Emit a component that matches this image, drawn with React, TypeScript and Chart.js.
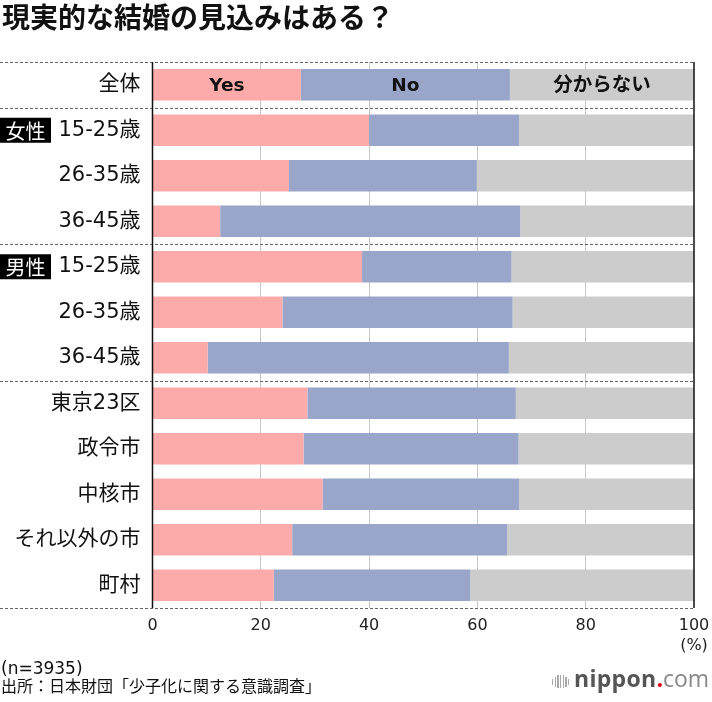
import React, { useEffect, useRef } from 'react';
import { Chart, registerables } from 'chart.js';

Chart.register(...registerables);

// ---- data ----
const categories = ['全体', '15-25歳', '26-35歳', '36-45歳', '15-25歳', '26-35歳', '36-45歳', '東京23区', '政令市', '中核市', 'それ以外の市', '町村'];
const groupTags = ['', '女性', '', '', '男性', '', '', '', '', '', '', ''];
const seriesNames = ['Yes', 'No', '分からない'];
const yesValues = [27.4, 40.0, 25.2, 12.5, 38.7, 24.0, 10.2, 28.6, 27.9, 31.4, 25.8, 22.4];
const noValues = [38.6, 27.7, 34.7, 55.4, 27.6, 42.5, 55.6, 38.5, 39.7, 36.3, 39.7, 36.3];
const dontKnowValues = [34.0, 32.3, 40.1, 32.1, 33.7, 33.5, 34.2, 32.9, 32.4, 32.3, 34.5, 41.3];
const xTickValues = [0, 20, 40, 60, 80, 100];
const groupBreaks = [0, 1, 4, 7, 12];
const unitLabel = '(%)';
const titleText = '現実的な結婚の見込みはある？';
const sampleNote = '(n=3935)';
const sourceNote = '出所：日本財団「少子化に関する意識調査」';

const COLORS = ['#FDAAAA', '#99A6CA', '#CCCCCC'];
const LATIN_CJK = '"DejaVu Sans", "Noto Sans CJK JP"';

const overlayPlugin = {
  id: 'overlay',
  afterDraw(chart: any) {
    const { ctx, chartArea } = chart;
    const xs = chart.scales.x;
    const ys = chart.scales.y;
    const x0 = xs.getPixelForValue(xTickValues[0]);
    const x100 = xs.getPixelForValue(xTickValues[xTickValues.length - 1]);
    ctx.save();
    // dashed separators
    ctx.setLineDash([3, 2]);
    ctx.strokeStyle = '#666';
    ctx.lineWidth = 1;
    groupBreaks.forEach((i) => {
      const py = Math.round(ys.getPixelForValue(i - 0.5)) + 0.5;
      ctx.beginPath();
      ctx.moveTo(0, py);
      ctx.lineTo(x100, py);
      ctx.stroke();
    });
    ctx.setLineDash([]);
    // axis lines at 0 and 100
    ctx.strokeStyle = '#111';
    ctx.lineWidth = 1.5;
    [x0, x100].forEach((px) => {
      ctx.beginPath();
      ctx.moveTo(px, chartArea.top);
      ctx.lineTo(px, chartArea.bottom);
      ctx.stroke();
    });
    // group tags
    groupTags.forEach((tag, i) => {
      if (!tag) return;
      const cy = ys.getPixelForValue(i);
      ctx.fillStyle = '#000';
      ctx.fillRect(0, cy - 12.5, 51, 25);
      ctx.fillStyle = '#fff';
      ctx.font = '20px "Noto Sans CJK JP"';
      ctx.textAlign = 'center';
      ctx.textBaseline = 'middle';
      ctx.fillText(tag, 25.5, cy + 1);
    });
    // series labels on first row
    chart.data.datasets.forEach((ds: any, d: number) => {
      const bar = chart.getDatasetMeta(d).data[0];
      if (!bar) return;
      const cx = (bar.x + bar.base) / 2;
      const isCjk = /[^\x00-\x7f]/.test(ds.label);
      ctx.font = `bold ${isCjk ? 19.5 : 18.5}px ${LATIN_CJK}`;
      ctx.fillStyle = '#111';
      ctx.textAlign = 'center';
      ctx.textBaseline = 'middle';
      ctx.fillText(ds.label, cx, bar.y + 1.5);
    });
    // unit label
    ctx.font = `16px ${LATIN_CJK}`;
    ctx.fillStyle = '#222';
    ctx.textAlign = 'center';
    ctx.textBaseline = 'middle';
    ctx.fillText(unitLabel, x100, chartArea.bottom + 38);
    ctx.restore();
  },
};

export default function App() {
  const canvasRef = useRef<HTMLCanvasElement | null>(null);

  useEffect(() => {
    if (!canvasRef.current) return;
    const datasetsValues = [yesValues, noValues, dontKnowValues];
    const chart = new Chart(canvasRef.current, {
      type: 'bar',
      data: {
        labels: categories,
        datasets: datasetsValues.map((vals, i) => ({
          label: seriesNames[i],
          data: vals,
          backgroundColor: COLORS[i],
          borderWidth: 0,
          categoryPercentage: 1,
          barPercentage: 0.69,
        })),
      },
      options: {
        indexAxis: 'y',
        responsive: false,
        animation: false,
        events: [],
        layout: { padding: { top: 62, right: 18, bottom: 0, left: 0 } },
        plugins: {
          legend: { display: false },
          tooltip: { enabled: false },
          title: { display: false },
        },
        scales: {
          x: {
            stacked: true,
            min: 0,
            max: 100,
            afterBuildTicks: (scale: any) => {
              scale.ticks = xTickValues.map((v) => ({ value: v }));
            },
            afterFit: (scale: any) => {
              scale.height = 94;
              scale.paddingLeft = 0;
              scale.paddingRight = 0;
            },
            border: { display: false },
            grid: {
              drawTicks: false,
              color: (c: any) => (c.tick && (c.tick.value === 0 || c.tick.value === 100) ? 'rgba(0,0,0,0)' : '#C8C8C8'),
              lineWidth: 1,
            },
            ticks: {
              padding: 8,
              color: '#222',
              font: { family: LATIN_CJK, size: 16 },
              maxRotation: 0,
            },
          },
          y: {
            stacked: true,
            afterFit: (scale: any) => {
              scale.width = 152.5;
              scale.paddingTop = 0;
              scale.paddingBottom = 0;
            },
            border: { display: false },
            grid: { display: false, drawTicks: false },
            ticks: {
              padding: 12,
              color: '#111',
              font: { family: LATIN_CJK, size: 21 },
              autoSkip: false,
            },
          },
        },
      },
      plugins: [overlayPlugin],
    } as any);
    return () => chart.destroy();
  }, []);

  const barHeights = [6, 10, 13, 13, 13, 10, 6];

  return (
    <div style={{ position: 'absolute', left: 0, top: 0, width: 712, height: 702, background: '#fff', overflow: 'hidden' }}>
      <canvas ref={canvasRef} width={712} height={702} style={{ position: 'absolute', left: 0, top: 0, width: 712, height: 702 }} />
      <div style={{ position: 'absolute', left: 2, top: 2, font: 'bold 28px "Noto Sans CJK JP"', lineHeight: '28px', color: '#111', whiteSpace: 'nowrap' }}>
        {titleText}
      </div>
      <div style={{ position: 'absolute', left: 1, top: 658, font: '17px "DejaVu Sans", "Noto Sans CJK JP"', lineHeight: '20px', color: '#111', whiteSpace: 'nowrap' }}>
        {sampleNote}
      </div>
      <div style={{ position: 'absolute', left: 1, top: 675, font: '16px "Noto Sans CJK JP"', lineHeight: '20px', color: '#111', whiteSpace: 'nowrap' }}>
        {sourceNote}
      </div>
      <div style={{ position: 'absolute', left: 552, top: 675, height: 13, display: 'flex', alignItems: 'center', gap: 1.4 }}>
        {barHeights.map((h, i) => (
          <div key={i} style={{ width: 1.3, height: h, background: '#AAAAAA' }} />
        ))}
      </div>
      <div style={{ position: 'absolute', left: 574, top: 667, font: 'bold 23px "Open Sans"', lineHeight: '22px', whiteSpace: 'nowrap' }}>
        <span style={{ color: '#555', letterSpacing: 0.3 }}>nippon</span>
        <span style={{ color: '#E60012' }}>.</span>
        <span style={{ color: '#888', fontWeight: 400 }}>com</span>
      </div>
    </div>
  );
}
